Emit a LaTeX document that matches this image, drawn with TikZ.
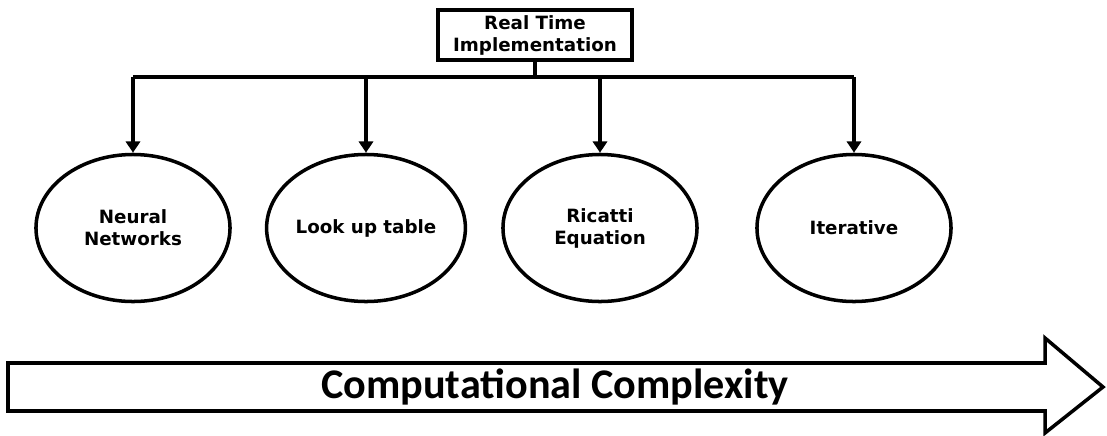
\documentclass[tikz,border=0pt]{standalone}
\usepackage{fontspec}
\setmainfont{DejaVu Sans}
\newfontfamily\calib{Carlito}
\usepackage{xcolor}
\usetikzlibrary{arrows.meta,shapes.geometric,positioning}
\definecolor{ink}{HTML}{000000}
\definecolor{paper}{HTML}{FFFFFF}
\tikzset{
  line/.style={draw=ink, line width=2.5pt},
  conn/.style={line, -{Triangle[length=8pt,width=10pt]}},
  topbox/.style={line, fill=paper, rectangle, align=center, minimum width=4.85cm, minimum height=1.25cm, inner sep=0pt, font=\bfseries\fontsize{13}{15.6}\selectfont},
  oval/.style={line, fill=paper, ellipse, align=center, minimum width=4.85cm, minimum height=3.675cm, inner sep=0pt, font=\bfseries\fontsize{13}{15.6}\selectfont},
  bigarrow/.style={line, line join=miter, fill=paper},
  lab/.style={text=ink, font=\calib\bfseries\fontsize{30}{36}\selectfont},
}
\begin{document}
\begin{tikzpicture}[x=0.025cm, y=-0.025cm]
\useasboundingbox (0,0) rectangle (1107,435);
% top node and bus line
\node[topbox] (rti) at (535,35) {Real Time\\Implementation};
\coordinate (bus) at (535,77);
\draw[line] (rti.south) -- (bus);

\foreach \n/\x/\t in {nn/133/{Neural\\Networks},lut/366/{Look up table},ric/600/{Ricatti\\Equation},itr/854/{Iterative}}{
  \node[oval] (\n) at (\x,228) {\t};
}
\draw[line] (nn |- bus) -- (itr |- bus);
\foreach \n in {nn,lut,ric,itr}{
  \draw[conn] (\n |- bus) -- (\n.north);
}

% complexity arrow
\draw[bigarrow] (8,363) -- (1045,363) -- (1045,338) -- (1103,387) -- (1045,433) -- (1045,411) -- (8,411) -- cycle;
\node[lab] (cc) at (555,387) {Computational Complexity};
\end{tikzpicture}
\end{document}
